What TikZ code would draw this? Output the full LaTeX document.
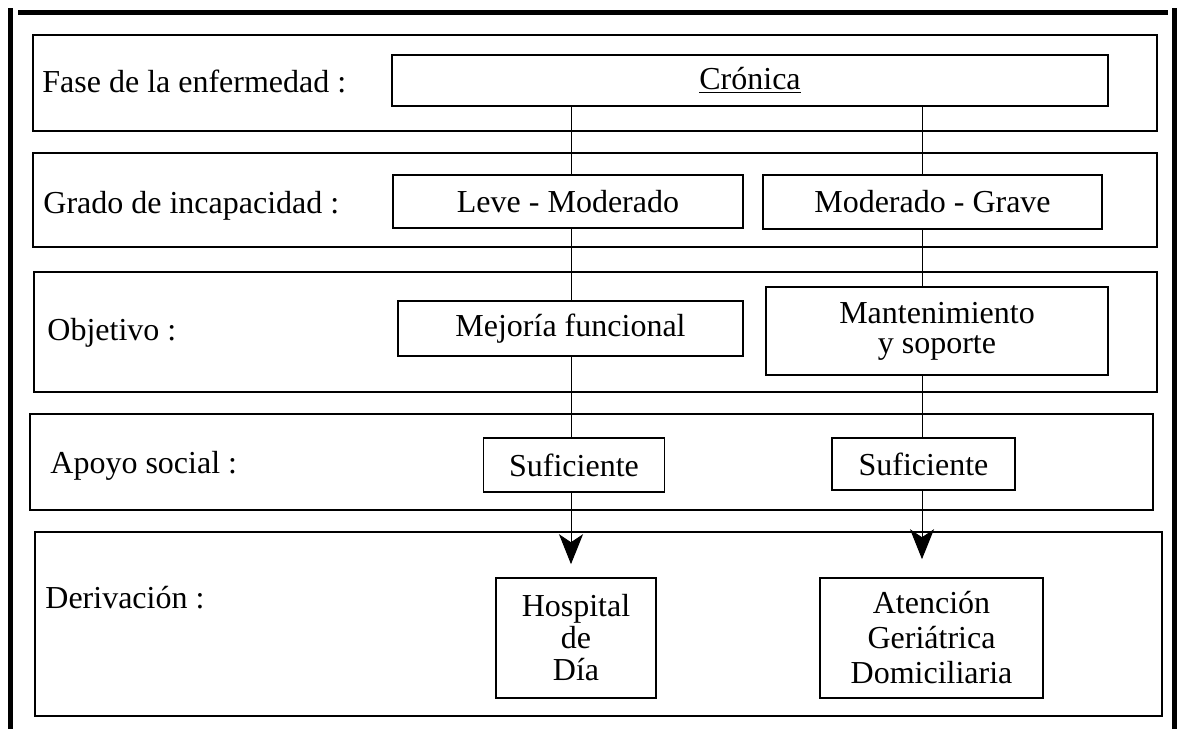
\documentclass[tikz,border=0pt]{standalone}
\usepackage{fontspec}
\setmainfont{Liberation Serif}
\usetikzlibrary{arrows.meta}
\tikzset{
  band/.style={line width=0.6pt},
  box/.style={draw, line width=0.8pt, inner sep=0pt, align=center, font=\fontsize{16}{16}\selectfont},
  rowlabel/.style={anchor=base west, inner sep=0pt, font=\fontsize{16}{16}\selectfont},
  link/.style={line width=0.5pt},
  arrowlink/.style={line width=0.5pt, -{Stealth[length=15pt, width=12pt, inset=4pt]}}
}
\begin{document}
\begin{tikzpicture}[x=0.5pt, y=-0.5pt]
\useasboundingbox (0,0) rectangle (1178,729);
% outer frame
\draw[line width=2.5pt] (18,12.5) -- (1168,12.5) ;
\draw[line width=2.5pt] (10.5,8) -- (10.5,729) ;
\draw[line width=2.5pt] (1174,8) -- (1174,729) ;
% bands
\foreach \xa/\ya/\xb/\yb in {33/35/1157/131, 33/153/1157/247, 34/272/1157/392, 30/414/1153/510, 35/532/1162/716}
  \draw[band] (\xa,\ya) rectangle (\xb,\yb) ;
% row labels
\node[rowlabel] (fase) at (42,92) {Fase de la enfermedad :} ;
\node[rowlabel] (grado) at (43,213) {Grado de incapacidad :} ;
\node[rowlabel] (objetivo) at (47,340) {Objetivo :} ;
\node[rowlabel] (apoyo) at (50,473) {Apoyo social :} ;
\node[rowlabel] (derivacion) at (45,608) {Derivación :} ;
% boxes
\node[box, minimum width=358pt, minimum height=25.5pt] (cronica) at (750,80.5) {\underline{Crónica}} ;
\node[box, minimum width=175pt, minimum height=26.5pt] (leve) at (568,201.5) {Leve - Moderado} ;
\node[box, minimum width=169.5pt, minimum height=27pt] (grave) at (932.5,202) {Moderado - Grave} ;
\node[box, minimum width=172.5pt, minimum height=27.5pt] (mejoria) at (570.5,328.5) {Mejoría funcional} ;
\node[box, minimum width=171pt, minimum height=44pt, font=\fontsize{16}{15}\selectfont] (mant) at (937,331) {Mantenimiento\\y soporte} ;
\node[box, minimum width=90.5pt, minimum height=27pt] (suf1) at (574,465) {Suficiente} ;
\node[box, minimum width=91.5pt, minimum height=26pt] (suf2) at (923.5,464) {Suficiente} ;
\node[box, minimum width=80pt, minimum height=60pt] (hosp) at (576,638) {Hospital\\de\\Día} ;
\node[box, minimum width=111.5pt, minimum height=60pt, font=\fontsize{16}{17.5}\selectfont] (aten) at (931.5,638) {Atención\\Geriátrica\\Domiciliaria} ;
% connectors
\coordinate (colL) at (571,0) ;
\coordinate (colR) at (922,0) ;
\draw[link] (colL |- cronica.south) -- (colL |- leve.north) ;
\draw[link] (colL |- leve.south) -- (colL |- mejoria.north) ;
\draw[link] (colL |- mejoria.south) -- (colL |- suf1.north) ;
\draw[arrowlink, shorten >=6.5pt] (colL |- suf1.south) -- (colL |- hosp.north) ;
\draw[link] (colR |- cronica.south) -- (colR |- grave.north) ;
\draw[link] (colR |- grave.south) -- (colR |- mant.north) ;
\draw[link] (colR |- mant.south) -- (colR |- suf2.north) ;
\draw[arrowlink, shorten >=9pt] (colR |- suf2.south) -- (colR |- aten.north) ;
\end{tikzpicture}
\end{document}
